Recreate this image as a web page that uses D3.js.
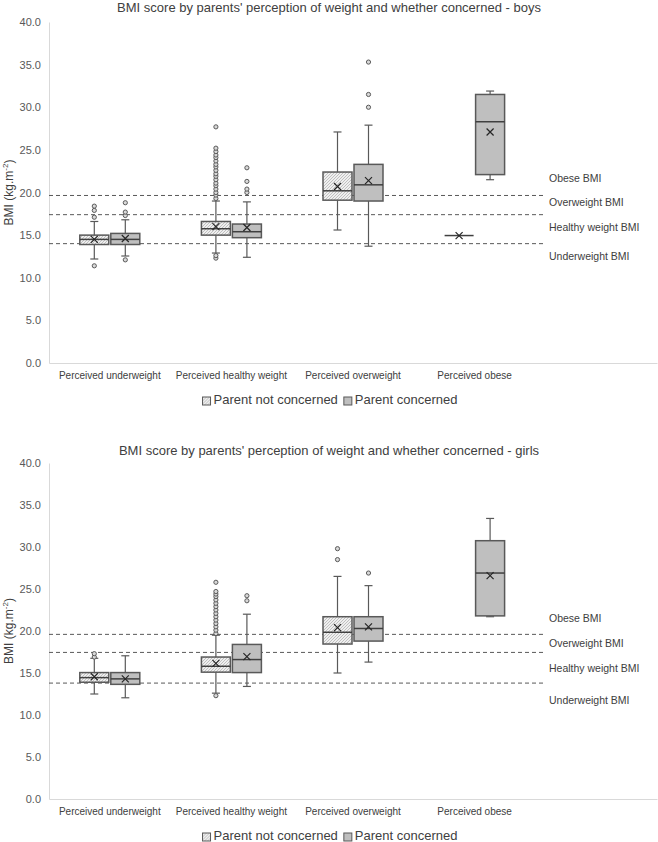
<!DOCTYPE html>
<html>
<head>
<meta charset="utf-8">
<script src="https://cdn.jsdelivr.net/npm/d3@7"></script>
<style>
  html, body { margin: 0; padding: 0; background: #fff; }
  svg { display: block; font-family: "Liberation Sans", Arial, sans-serif; }
</style>
</head>
<body>
<script>
// ---------- DATA ----------
const categories = ["Perceived underweight", "Perceived healthy weight", "Perceived overweight", "Perceived obese"];
const seriesNames = ["Parent not concerned", "Parent concerned"];
const yTicks = [0, 5, 10, 15, 20, 25, 30, 35, 40];
const thresholdNames = ["Obese BMI", "Overweight BMI", "Healthy weight BMI", "Underweight BMI"];

// Boys
const boysTitle = "BMI score by parents' perception of weight and whether concerned - boys";
const boysThresholds = [19.65, 17.4, 14.0];
const boysLabelValues = [21.5, 18.7, 15.8, 12.35];
const boysNotConcernedMin    = [12.2, 12.9, 15.6, 14.95];
const boysNotConcernedQ1     = [13.9, 15.0, 19.1, 14.95];
const boysNotConcernedMedian = [14.5, 15.75, 20.2, 14.95];
const boysNotConcernedQ3     = [15.0, 16.6, 22.4, 14.95];
const boysNotConcernedMax    = [16.6, 19.0, 27.1, 14.95];
const boysNotConcernedMean   = [14.5, 16.0, 20.7, 14.95];
const boysNotConcernedOutliers = [
  [11.4, 17.1, 17.9, 18.4],
  [12.3, 12.6, 19.3, 19.7, 20.0, 20.4, 20.8, 21.1, 21.5, 21.9, 22.2, 22.6, 23.0, 23.3, 23.7, 24.1, 24.4, 24.8, 25.2, 27.7],
  [],
  []
];
const boysConcernedMin    = [12.55, 12.4, 13.7, 21.5];
const boysConcernedQ1     = [13.9, 14.7, 19.0, 22.1];
const boysConcernedMedian = [14.5, 15.4, 20.9, 28.3];
const boysConcernedQ3     = [15.2, 16.3, 23.3, 31.5];
const boysConcernedMax    = [16.8, 18.9, 27.9, 31.9];
const boysConcernedMean   = [14.6, 15.9, 21.4, 27.1];
const boysConcernedOutliers = [
  [12.1, 17.3, 17.7, 18.8],
  [20.0, 20.4, 21.3, 22.9],
  [30.0, 31.5, 35.3],
  []
];

// Girls
const girlsTitle = "BMI score by parents' perception of weight and whether concerned - girls";
const girlsThresholds = [19.6, 17.45, 13.8];
const girlsLabelValues = [21.4, 18.45, 15.45, 11.7];
const girlsNotConcernedMin    = [12.5, 12.6, 15.0, null];
const girlsNotConcernedQ1     = [13.9, 15.1, 18.45, null];
const girlsNotConcernedMedian = [14.45, 15.8, 19.85, null];
const girlsNotConcernedQ3     = [15.05, 16.9, 21.7, null];
const girlsNotConcernedMax    = [16.75, 19.5, 26.5, null];
const girlsNotConcernedMean   = [14.55, 16.15, 20.4, null];
const girlsNotConcernedOutliers = [
  [16.9, 17.3],
  [12.3, 19.7, 20.1, 20.5, 20.9, 21.3, 21.7, 22.1, 22.5, 22.9, 23.3, 23.7, 24.1, 24.4, 24.7, 25.8],
  [28.5, 29.8],
  []
];
const girlsConcernedMin    = [12.05, 13.4, 16.3, 21.7];
const girlsConcernedQ1     = [13.65, 15.05, 18.8, 21.8];
const girlsConcernedMedian = [14.3, 16.6, 20.3, 26.9];
const girlsConcernedQ3     = [15.05, 18.4, 21.7, 30.75];
const girlsConcernedMax    = [17.05, 22.0, 25.4, 33.4];
const girlsConcernedMean   = [14.3, 16.95, 20.5, 26.6];
const girlsConcernedOutliers = [
  [],
  [23.6, 24.2],
  [26.9],
  []
];

// ---------- DRAWING ----------
const W = 658, H = 842;
const svg = d3.select("body").append("svg").attr("width", W).attr("height", H);

const defs = svg.append("defs");
const pat = defs.append("pattern")
  .attr("id", "hatch").attr("patternUnits", "userSpaceOnUse")
  .attr("width", 3).attr("height", 3);
pat.append("rect").attr("width", 3).attr("height", 3).attr("fill", "#efefef");
pat.append("path").attr("d", "M-0.75,0.75 l1.5,-1.5 M0,3 l3,-3 M2.25,3.75 l1.5,-1.5")
  .attr("stroke", "#a0a0a0").attr("stroke-width", 0.6);

const boxStroke = "#595959";
const solidFill = "#bfbfbf";

function buildSeries(name, mins, q1s, meds, q3s, maxs, means, outs) {
  return categories.map((c, i) => ({
    series: name, category: c,
    min: mins[i], q1: q1s[i], median: meds[i], q3: q3s[i], max: maxs[i], mean: means[i],
    outliers: outs[i]
  })).filter(d => d.median !== null);
}

function drawChart(cfg) {
  const g = svg.append("g");
  const left = 49, right = 657;
  const x0 = d3.scaleBand().domain([...categories, ""]).range([left, right]);
  const bw = x0.bandwidth();
  const x1 = d3.scaleBand().domain(seriesNames).range([bw / 2 - 30, bw / 2 + 30]).paddingInner(2 / 31);
  const y = d3.scaleLinear().domain([0, 40]).range([cfg.bottom, cfg.top]);

  // title
  g.append("text").attr("x", 329).attr("y", cfg.titleY)
    .attr("text-anchor", "middle").attr("dominant-baseline", "middle")
    .attr("font-size", 13).attr("fill", "#404040").text(cfg.title);

  // y axis
  const yAxis = d3.axisLeft(y).tickValues(yTicks).tickFormat(d3.format(".1f")).tickSize(0).tickPadding(8);
  const ya = g.append("g").attr("transform", `translate(${left},0)`).call(yAxis);
  ya.select(".domain").attr("stroke", "#d9d9d9");
  ya.selectAll("text").attr("font-size", 11).attr("fill", "#595959").attr("font-family", "Liberation Sans, Arial, sans-serif");

  // x axis
  const xAxis = d3.axisBottom(x0).tickSize(0).tickPadding(9).tickFormat(d => d);
  const xa = g.append("g").attr("transform", `translate(0,${cfg.bottom})`).call(xAxis);
  xa.select(".domain").attr("stroke", "#d9d9d9");
  xa.selectAll("text").attr("font-size", 10).attr("fill", "#404040").attr("font-family", "Liberation Sans, Arial, sans-serif");

  // y label
  const yl = g.append("text")
    .attr("transform", `translate(13,${(cfg.top + cfg.bottom) / 2}) rotate(-90)`)
    .attr("text-anchor", "middle").attr("font-size", 12).attr("fill", "#404040");
  yl.append("tspan").text("BMI (kg.m");
  yl.append("tspan").attr("font-size", 8).attr("dy", -5).text("-2");
  yl.append("tspan").attr("dy", 5).text(")");

  // threshold lines
  g.selectAll(".thr").data(cfg.thresholds).enter().append("line")
    .attr("x1", left).attr("x2", 546)
    .attr("y1", d => y(d)).attr("y2", d => y(d))
    .attr("stroke", "#595959").attr("stroke-width", 1).attr("stroke-dasharray", "4,3");
  g.selectAll(".thrl").data(thresholdNames).enter().append("text")
    .attr("x", 549).attr("y", (d, i) => y(cfg.labelValues[i]))
    .attr("dominant-baseline", "middle").attr("font-size", 10.5).attr("fill", "#404040")
    .text(d => d);

  // boxes
  const data = [...cfg.notConcerned, ...cfg.concerned];
  const bx = d => x0(d.category) + x1(d.series);
  const w = x1.bandwidth();
  const capW = 8;
  const grp = g.selectAll(".box").data(data).enter().append("g");

  // whiskers
  grp.append("line").attr("x1", d => bx(d) + w / 2).attr("x2", d => bx(d) + w / 2)
    .attr("y1", d => y(d.max)).attr("y2", d => y(d.q3))
    .attr("stroke", boxStroke).attr("stroke-width", 1.2);
  grp.append("line").attr("x1", d => bx(d) + w / 2).attr("x2", d => bx(d) + w / 2)
    .attr("y1", d => y(d.q1)).attr("y2", d => y(d.min))
    .attr("stroke", boxStroke).attr("stroke-width", 1.2);
  grp.filter(d => d.max !== d.q3).append("line")
    .attr("x1", d => bx(d) + w / 2 - capW / 2).attr("x2", d => bx(d) + w / 2 + capW / 2)
    .attr("y1", d => y(d.max)).attr("y2", d => y(d.max))
    .attr("stroke", boxStroke).attr("stroke-width", 1.2);
  grp.filter(d => d.min !== d.q1).append("line")
    .attr("x1", d => bx(d) + w / 2 - capW / 2).attr("x2", d => bx(d) + w / 2 + capW / 2)
    .attr("y1", d => y(d.min)).attr("y2", d => y(d.min))
    .attr("stroke", boxStroke).attr("stroke-width", 1.2);

  // box
  grp.append("rect").attr("x", d => bx(d)).attr("width", w)
    .attr("y", d => y(d.q3)).attr("height", d => Math.max(0, y(d.q1) - y(d.q3)))
    .attr("fill", d => d.series === seriesNames[0] ? "url(#hatch)" : solidFill)
    .attr("stroke", d => d.q1 === d.q3 ? "#262626" : boxStroke)
    .attr("stroke-width", d => d.q1 === d.q3 ? 1.2 : 1.5);
  // median
  grp.append("line").attr("x1", d => bx(d)).attr("x2", d => bx(d) + w)
    .attr("y1", d => y(d.median)).attr("y2", d => y(d.median))
    .attr("stroke", "#404040").attr("stroke-width", 1.5);
  // mean X
  const m = 3.5;
  grp.append("path")
    .attr("d", d => {
      const cx = bx(d) + w / 2, cy = y(d.mean);
      return `M${cx - m},${cy - m}L${cx + m},${cy + m}M${cx - m},${cy + m}L${cx + m},${cy - m}`;
    })
    .attr("stroke", "#262626").attr("stroke-width", 1.2).attr("fill", "none");
  // outliers
  grp.selectAll("circle").data(d => d.outliers.map(v => ({ v, d }))).enter().append("circle")
    .attr("cx", o => bx(o.d) + w / 2).attr("cy", o => y(o.v)).attr("r", 2.1)
    .attr("fill", "#d9d9d9").attr("stroke", "#595959").attr("stroke-width", 1);

  // legend
  const lg = g.append("g").attr("transform", `translate(0,${cfg.legendY})`);
  let xPos = 0;
  seriesNames.forEach((s, i) => {
    const it = lg.append("g").attr("transform", `translate(${xPos},0)`);
    it.append("rect").attr("x", 0).attr("y", -4).attr("width", 8).attr("height", 8)
      .attr("fill", i === 0 ? "url(#hatch)" : solidFill).attr("stroke", boxStroke).attr("stroke-width", 1);
    const t = it.append("text").attr("x", 11).attr("y", 0).attr("dominant-baseline", "middle")
      .attr("font-size", 13).attr("fill", "#404040").text(s);
    xPos += 11 + t.node().getComputedTextLength() + 6;
  });
  const totalW = xPos - 6;
  lg.attr("transform", `translate(${330 - totalW / 2},${cfg.legendY})`);
}

drawChart({
  title: boysTitle, titleY: 9, top: 22, bottom: 363, legendY: 401,
  thresholds: boysThresholds, labelValues: boysLabelValues,
  notConcerned: buildSeries(seriesNames[0], boysNotConcernedMin, boysNotConcernedQ1, boysNotConcernedMedian, boysNotConcernedQ3, boysNotConcernedMax, boysNotConcernedMean, boysNotConcernedOutliers),
  concerned: buildSeries(seriesNames[1], boysConcernedMin, boysConcernedQ1, boysConcernedMedian, boysConcernedQ3, boysConcernedMax, boysConcernedMean, boysConcernedOutliers)
});
drawChart({
  title: girlsTitle, titleY: 452, top: 463, bottom: 799, legendY: 837,
  thresholds: girlsThresholds, labelValues: girlsLabelValues,
  notConcerned: buildSeries(seriesNames[0], girlsNotConcernedMin, girlsNotConcernedQ1, girlsNotConcernedMedian, girlsNotConcernedQ3, girlsNotConcernedMax, girlsNotConcernedMean, girlsNotConcernedOutliers),
  concerned: buildSeries(seriesNames[1], girlsConcernedMin, girlsConcernedQ1, girlsConcernedMedian, girlsConcernedQ3, girlsConcernedMax, girlsConcernedMean, girlsConcernedOutliers)
});
</script>
</body>
</html>
